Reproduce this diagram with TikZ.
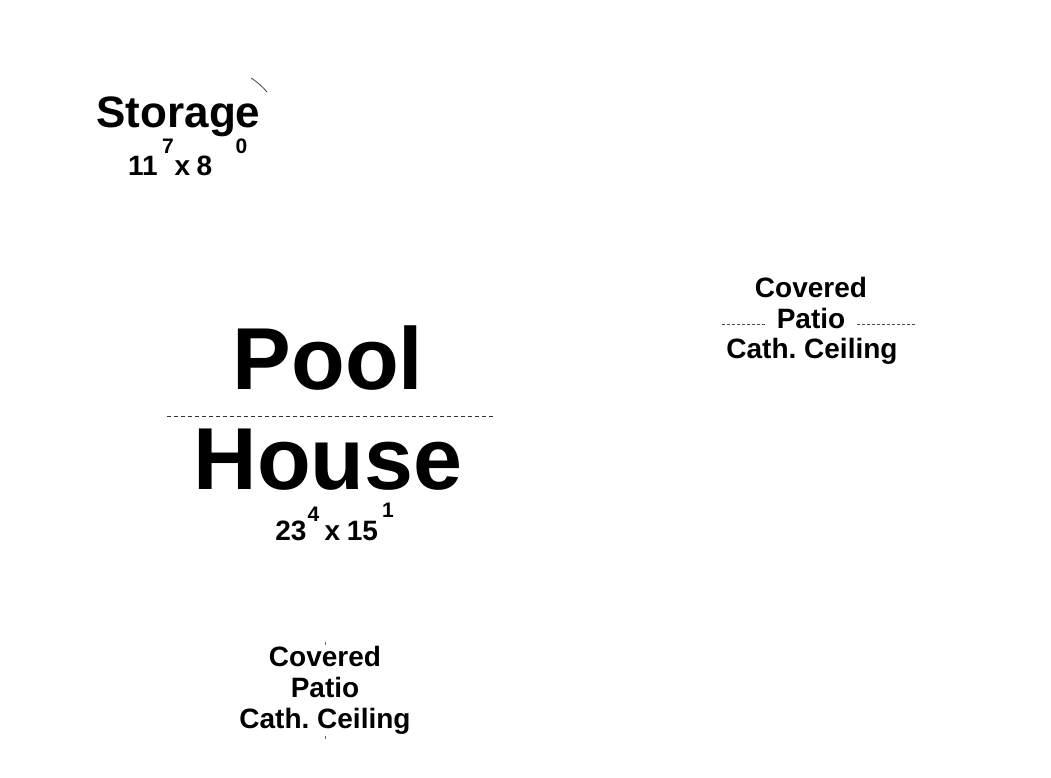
\documentclass[tikz,border=0pt]{standalone}
\usepackage{fontspec}
\setmainfont{Liberation Sans}
\begin{document}
\frenchspacing
\begin{tikzpicture}[x=1bp,y=-1bp,
  lbl/.style={inner sep=0pt,anchor=base,font=\bfseries},
  big/.style={lbl,text depth=0bp,font=\fontsize{88bp}{88bp}\selectfont\bfseries},
  room/.style={lbl,font=\fontsize{44bp}{44bp}\selectfont\bfseries},
  dim/.style={lbl,text height=20bp,text depth=0bp,font=\fontsize{28bp}{28bp}\selectfont\bfseries},
  sup/.style={lbl,text height=15bp,text depth=0bp,font=\fontsize{21bp}{21bp}\selectfont\bfseries},
  patio/.style={lbl,font=\fontsize{28bp}{28bp}\selectfont\bfseries},
  divider/.style={draw=black!80,line width=0.7bp,dash pattern=on 4bp off 3bp},
  thindiv/.style={draw=black!70,line width=0.6bp,dash pattern=on 3bp off 2bp},
  tickln/.style={draw=black!60,line width=0.8bp}]
\useasboundingbox (0,0) rectangle (1051,778);
% Storage
\node[room] (storage) at (178.5,127) {Storage};
\node[dim] (s11) at (143,175) {11};
\node[dim] (sx) at (182.5,175) {x};
\node[dim] (s8) at (204.5,175) {8};
\node[sup] (s7) at (168,153) {7};
\node[sup] (s0) at (241.5,153) {0};
\coordinate (arcA) at (251,78);
\coordinate (arcB) at (267,92);
\draw[tickln,draw=black!75] (arcA) to[bend left=8] (arcB);
% Pool House
\node[big] (pool) at (328,389) {Pool};
\node[big] (house) at (328,489) {House};
\coordinate (pdL) at (167,416);
\coordinate (pdR) at (494,416);
\draw[divider] (pdL) -- (pdR);
\node[dim] (p23) at (291,540) {23};
\node[dim] (px) at (332.5,540) {x};
\node[dim] (p15) at (362.5,540) {15};
\node[sup] (p4) at (313.5,521) {4};
\node[sup] (p1) at (388,517) {1};
% Right covered patio
\node[patio] (rc1) at (811,297) {Covered};
\node[patio] (rc2) at (811,328) {Patio};
\node[patio] (rc3) at (812,358) {Cath. Ceiling};
\coordinate (rl1) at (722,324);
\coordinate (rl2) at (766,324);
\coordinate (rr1) at (857,324);
\coordinate (rr2) at (916,324);
\draw[thindiv] (rl1) -- (rl2);
\draw[thindiv] (rr1) -- (rr2);
% Bottom covered patio
\node[patio] (bc1) at (325,666) {Covered};
\node[patio] (bc2) at (325,697) {Patio};
\node[patio] (bc3) at (325,728) {Cath. Ceiling};
\coordinate (t1a) at (325,642);
\coordinate (t1b) at (325,645);
\coordinate (t2a) at (325,736);
\coordinate (t2b) at (325,739);
\draw[tickln] (t1a) -- (t1b);
\draw[tickln] (t2a) -- (t2b);
\end{tikzpicture}
\end{document}
